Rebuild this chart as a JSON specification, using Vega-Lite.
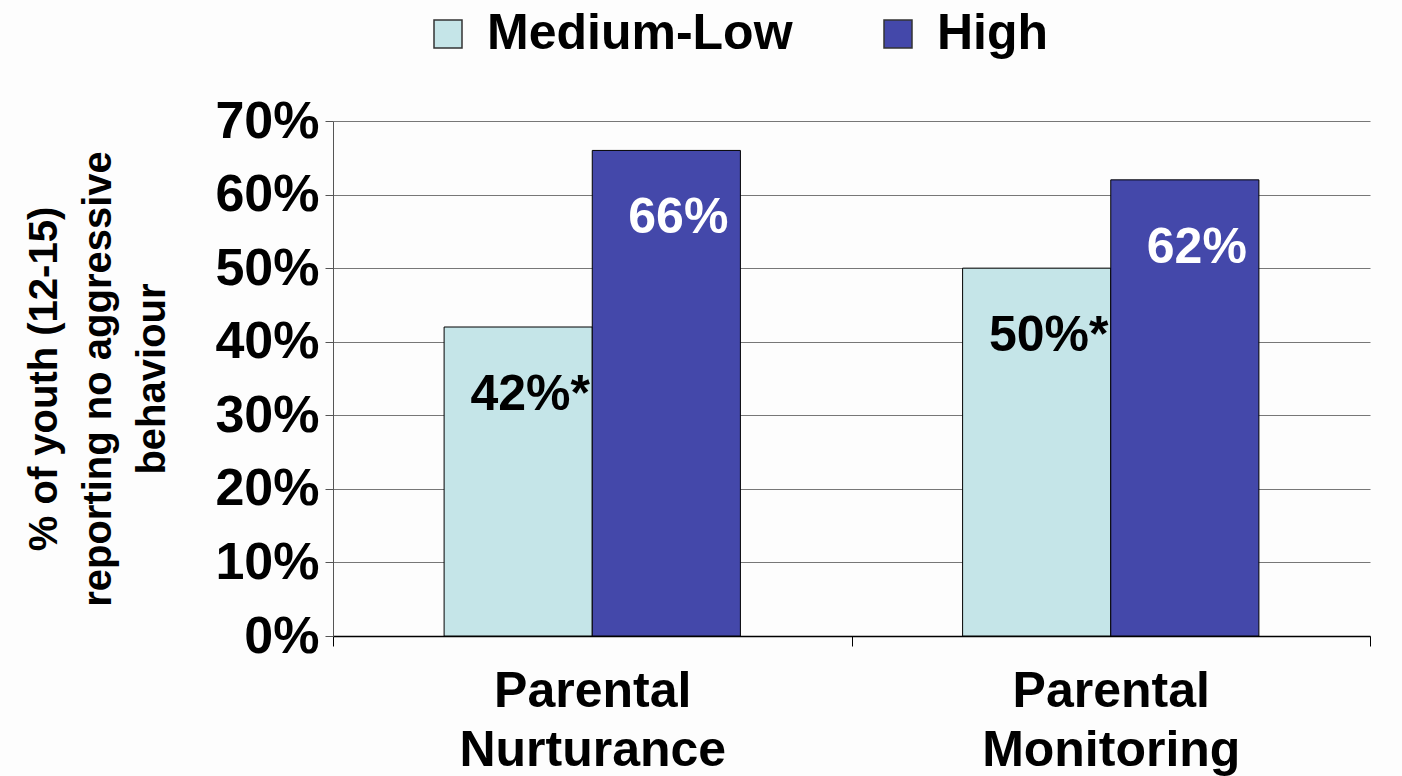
{
  "$schema": "https://vega.github.io/schema/vega-lite/v6.json",
  "autosize": "none",
  "width": 1037,
  "height": 515,
  "padding": {"left": 333, "top": 121, "right": 32, "bottom": 140},
  "background": "#fdfdfd",
  "config": {
    "font": "Liberation Sans",
    "view": {"stroke": null}
  },
  "data": {
    "values": [
      {"category": "Parental Nurturance", "group": "Medium-Low", "value": 0.42, "label": "42%*"},
      {"category": "Parental Nurturance", "group": "High", "value": 0.66, "label": "66%"},
      {"category": "Parental Monitoring", "group": "Medium-Low", "value": 0.50, "label": "50%*"},
      {"category": "Parental Monitoring", "group": "High", "value": 0.62, "label": "62%"}
    ]
  },
  "encoding": {
    "x": {
      "field": "category",
      "type": "nominal",
      "sort": ["Parental Nurturance", "Parental Monitoring"],
      "scale": {"paddingInner": 0, "paddingOuter": 0},
      "axis": {
        "title": null,
        "labelAngle": 0,
        "labelExpr": "split(datum.label, ' ')",
        "labelLimit": 0,
        "labelFont": "Liberation Sans",
        "labelFontWeight": "bold",
        "labelFontSize": 50,
        "labelLineHeight": 59,
        "labelColor": "black",
        "labelPadding": 20,
        "tickBand": "extent",
        "tickSize": 10,
        "tickColor": "black",
        "domainColor": "black",
        "domainWidth": 1.5
      }
    },
    "xOffset": {
      "field": "group",
      "type": "nominal",
      "sort": ["Medium-Low", "High"],
      "scale": {"paddingInner": 0, "paddingOuter": 0.75}
    },
    "y": {
      "field": "value",
      "type": "quantitative",
      "scale": {"domain": [0, 0.7], "nice": false},
      "axis": {
        "values": [0, 0.1, 0.2, 0.3, 0.4, 0.5, 0.6, 0.7],
        "format": ".0%",
        "title": ["% of youth (12-15)", "reporting no aggressive", "behaviour"],
        "titleFont": "Liberation Sans",
        "titleFontWeight": "bold",
        "titleFontSize": 40,
        "titleLineHeight": 54,
        "titleColor": "black",
        "titlePadding": 42,
        "labelFont": "Liberation Sans",
        "labelFontWeight": "bold",
        "labelFontSize": 52,
        "labelColor": "black",
        "labelPadding": 6,
        "tickSize": 8,
        "tickColor": "#555",
        "domainColor": "#555",
        "grid": true,
        "gridColor": "#777",
        "gridWidth": 1
      }
    }
  },
  "layer": [
    {
      "mark": {"type": "bar", "stroke": "black", "strokeWidth": 1},
      "encoding": {
        "color": {
          "field": "group",
          "type": "nominal",
          "sort": ["Medium-Low", "High"],
          "scale": {"domain": ["Medium-Low", "High"], "range": ["#c5e5e8", "#4448aa"]},
          "legend": {
            "title": null,
            "orient": "none",
            "direction": "horizontal",
            "legendX": 90,
            "legendY": -112,
            "symbolType": "square",
            "symbolSize": 784,
            "symbolStrokeColor": "#333",
            "symbolStrokeWidth": 1.5,
            "labelFont": "Liberation Sans",
            "labelFontWeight": "bold",
            "labelFontSize": 50,
            "labelColor": "black",
            "labelOffset": 14,
            "labelLimit": 0,
            "columnPadding": 80
          }
        }
      }
    },
    {
      "mark": {
        "type": "text",
        "font": "Liberation Sans",
        "fontWeight": "bold",
        "fontSize": 50,
        "baseline": "middle",
        "align": "center",
        "dy": 68,
        "dx": 12
      },
      "encoding": {
        "text": {"field": "label"},
        "color": {
          "condition": {"test": "datum.group === 'High'", "value": "white"},
          "value": "black"
        }
      }
    }
  ]
}
